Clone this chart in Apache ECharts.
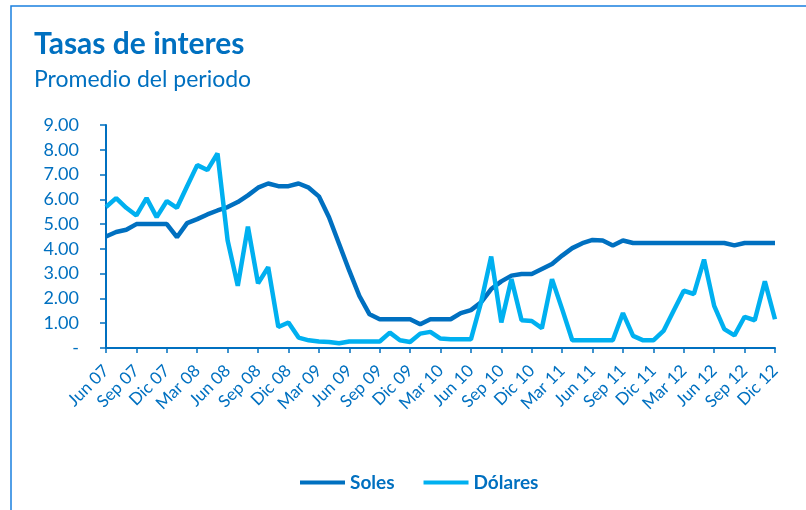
<!DOCTYPE html>
<html>
<head>
<meta charset="utf-8">
<script src="https://cdn.jsdelivr.net/npm/echarts@6/dist/echarts.min.js"></script>
<style>
  html, body { margin: 0; padding: 0; background: #fff; }
  #main { width: 806px; height: 510px; }
</style>
</head>
<body>
<div id="main"></div>
<script>
// meses jun 07 - dic 12
var meses = ['Ene', 'Feb', 'Mar', 'Abr', 'May', 'Jun', 'Jul', 'Ago', 'Sep', 'Oct', 'Nov', 'Dic'];
var categorias = [];
for (var a = 7; a <= 12; a++) {
  for (var m = 0; m < 12; m++) {
    if (a == 7 && m < 5) continue;
    categorias.push(meses[m] + ' ' + (a < 10 ? '0' + a : a));
  }
}

var soles = [
  4.50, 4.68, 4.77, 5.00, 5.00, 5.00, 5.00, 4.47, 5.04, 5.20,
  5.39, 5.55, 5.69, 5.89, 6.16, 6.47, 6.64, 6.53, 6.53, 6.64,
  6.47, 6.12, 5.28, 4.20, 3.12, 2.10, 1.36, 1.16, 1.16, 1.16,
  1.16, 0.96, 1.16, 1.16, 1.16, 1.41, 1.53, 1.84, 2.38, 2.69,
  2.92, 2.99, 2.99, 3.19, 3.39, 3.73, 4.03, 4.23, 4.36, 4.34,
  4.14, 4.34, 4.24, 4.24, 4.24, 4.24, 4.24, 4.24, 4.24, 4.24,
  4.24, 4.24, 4.14, 4.24, 4.24, 4.24, 4.24
];

var dolares = [
  5.69, 6.05, 5.66, 5.35, 6.05, 5.28, 5.93, 5.66, 6.53, 7.38,
  7.18, 7.85, 4.34, 2.51, 4.90, 2.61, 3.26, 0.85, 1.03, 0.42,
  0.31, 0.26, 0.24, 0.19, 0.26, 0.26, 0.26, 0.26, 0.62, 0.31,
  0.24, 0.58, 0.65, 0.38, 0.35, 0.35, 0.35, 1.84, 3.69, 1.03,
  2.78, 1.12, 1.09, 0.80, 2.78, 1.57, 0.31, 0.31, 0.31, 0.31,
  0.31, 1.41, 0.49, 0.31, 0.31, 0.69, 1.50, 2.31, 2.18, 3.57,
  1.70, 0.76, 0.51, 1.26, 1.12, 2.69, 1.16
];

var azul = '#0070c0';
var celeste = '#00b0f0';
var fuente = 'Lato';

var myChart = echarts.init(document.getElementById('main'));
var option = {
  backgroundColor: '#fff',
  animation: false,
  textStyle: { fontFamily: fuente },
  graphic: [{
    type: 'rect',
    shape: { x: 11, y: 6, width: 900, height: 700 },
    style: { fill: 'none', stroke: '#1a80e0', lineWidth: 1.5 }
  }],
  title: {
    text: 'Tasas de interes',
    subtext: 'Promedio del periodo',
    left: 29,
    top: 24,
    itemGap: 9,
    textStyle: { color: azul, fontSize: 30, fontWeight: 'bold', fontFamily: fuente },
    subtextStyle: { color: azul, fontSize: 23, fontFamily: fuente }
  },
  legend: {
    left: 295,
    top: 468,
    icon: 'rect',
    itemWidth: 45,
    itemHeight: 4,
    itemGap: 29,
    textStyle: { color: azul, fontSize: 19, fontWeight: 'bold', fontFamily: fuente },
    data: ['Soles', 'Dólares']
  },
  grid: { left: 106, right: 31, top: 125, bottom: 162 },
  xAxis: {
    type: 'category',
    boundaryGap: false,
    data: categorias,
    axisLine: { lineStyle: { color: azul, width: 2 } },
    axisTick: { interval: 2, length: 5, lineStyle: { color: azul, width: 1.5 } },
    axisLabel: { interval: 2, rotate: 45, margin: 20, color: azul, fontSize: 17, fontFamily: fuente }
  },
  yAxis: {
    type: 'value',
    min: 0,
    max: 9,
    interval: 1,
    splitLine: { show: false },
    axisLine: { show: true, lineStyle: { color: azul, width: 2 } },
    axisTick: { show: true, length: 6, lineStyle: { color: azul, width: 1.5 } },
    axisLabel: {
      color: azul, fontSize: 18, margin: 27, fontFamily: fuente,
      formatter: function (v) { return v == 0 ? '-' : v.toFixed(2); }
    }
  },
  series: [{
    name: 'Soles',
    type: 'line',
    symbol: 'none',
    data: soles,
    lineStyle: { color: azul, width: 4.5 },
    itemStyle: { color: azul }
  }, {
    name: 'Dólares',
    type: 'line',
    symbol: 'none',
    data: dolares,
    lineStyle: { color: celeste, width: 4.5 },
    itemStyle: { color: celeste }
  }]
};
myChart.setOption(option);
</script>
</body>
</html>
